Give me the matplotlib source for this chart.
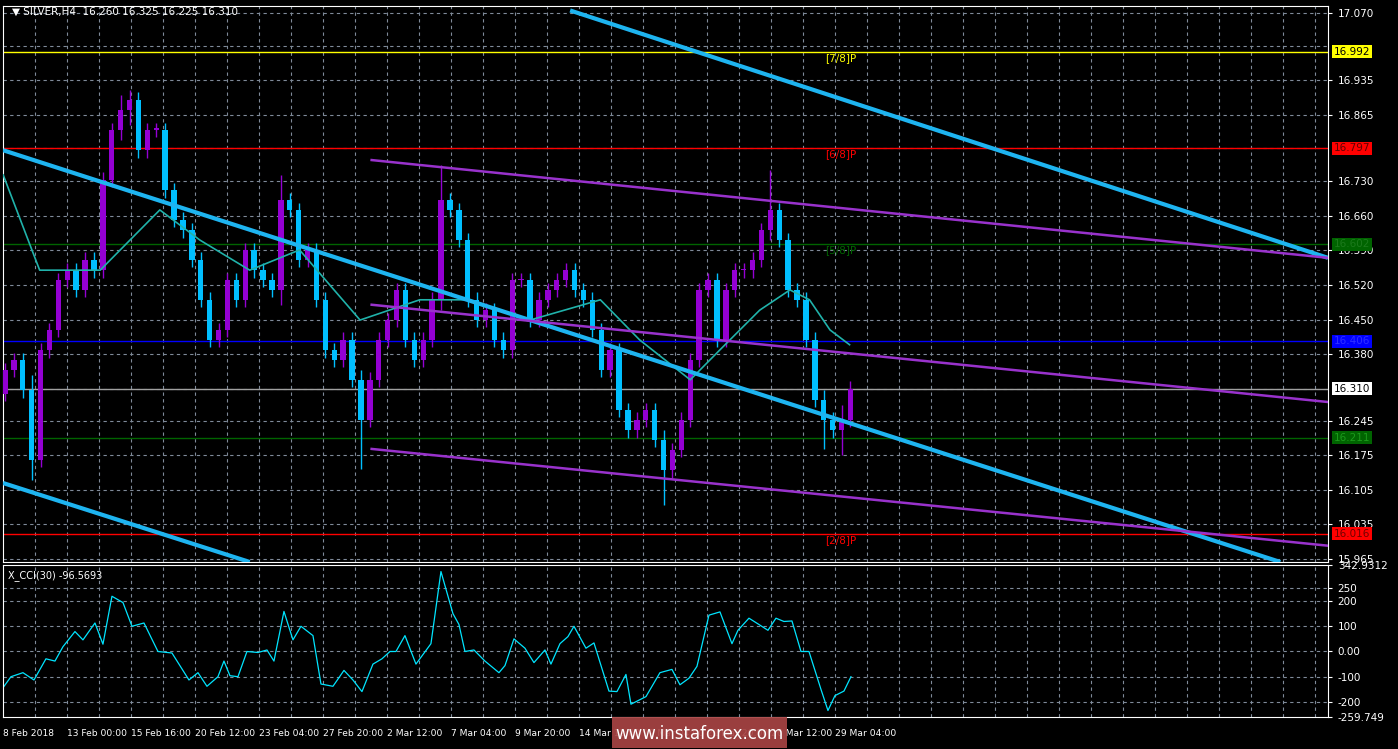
import matplotlib.pyplot as plt
import matplotlib.transforms as mtransforms
import numpy as np

# ---- data ----
closes = [16.348, 16.368, 16.307, 16.166, 16.388, 16.429, 16.530, 16.550, 16.510, 16.571,
          16.550, 16.733, 16.834, 16.874, 16.895, 16.793, 16.834, 16.834, 16.712, 16.652,
          16.631, 16.571, 16.490, 16.409, 16.429, 16.530, 16.490, 16.591, 16.550, 16.530,
          16.510, 16.692, 16.672, 16.571, 16.591, 16.490, 16.388, 16.368, 16.409, 16.328,
          16.247, 16.328, 16.409, 16.449, 16.510, 16.409, 16.368, 16.409, 16.490, 16.692,
          16.672, 16.611, 16.490, 16.449, 16.469, 16.409, 16.388, 16.530, 16.530, 16.449,
          16.490, 16.510, 16.530, 16.550, 16.510, 16.490, 16.429, 16.348, 16.388, 16.267,
          16.226, 16.247, 16.267, 16.206, 16.145, 16.186, 16.247, 16.368, 16.510, 16.530,
          16.409, 16.510, 16.550, 16.550, 16.571, 16.631, 16.672, 16.611, 16.510, 16.490,
          16.409, 16.287, 16.247, 16.226, 16.247, 16.310]
first_open = 16.300
big_wicks = {3: (0.03, 0.04), 13: (0.03, 0.02), 14: (0.02, 0.03), 31: (0.05, 0.03),
             40: (0.02, 0.10), 49: (0.07, 0.02), 74: (0.02, 0.07), 86: (0.08, 0.02),
             92: (0.02, 0.06), 94: (0.03, 0.05)}

ma_t = [-0.2, 3.9, 10.7, 17.4, 21.9, 27.5, 33.1, 39.9, 46.6, 52.2, 59.0, 66.9, 71.3,
        77.0, 80.3, 84.8, 88.2, 90.4, 92.7, 94.9]
ma_v = [16.743, 16.550, 16.550, 16.672, 16.611, 16.550, 16.591, 16.449, 16.490, 16.490,
        16.449, 16.490, 16.409, 16.328, 16.388, 16.469, 16.510, 16.490, 16.429, 16.399]

blue_lines = [((63.5, 17.076), (148.65, 16.575)),
              ((-0.22, 16.793), (143.3, 15.959)),
              ((-0.22, 16.119), (27.5, 15.959))]
purple_lines = [((41.2, 16.773), (148.65, 16.575)),
                ((41.2, 16.480), (148.65, 16.283)),
                ((41.2, 16.188), (148.65, 15.992))]

levels = [16.992, 16.797, 16.602, 16.406, 16.310, 16.211, 16.016]
level_colors = ['#FFFF00', '#FF0000', '#006400', '#0000FF', '#A0A0A0', '#006400', '#FF0000']
box_colors = ['#FFFF00', '#FF0000', '#006400', '#0000FF', '#FFFFFF', '#006400', '#FF0000']
box_text = ['black', '#600000', '#1c7a1c', '#3030ff', 'black', '#1c9a1c', '#700000']
murray = [(16.992, '[7/8]P', '#FFFF00'), (16.797, '[6/8]P', '#FF0000'),
          (16.602, '[5/8]P', '#006400'), (16.016, '[2/8]P', '#FF0000')]

price_ticks = [17.070, 16.935, 16.865, 16.730, 16.660, 16.590, 16.520, 16.450, 16.380,
               16.245, 16.175, 16.105, 16.035, 15.965]
grid_prices = [17.070, 17.003, 16.935, 16.865, 16.797, 16.730, 16.660, 16.590, 16.520,
               16.450, 16.380, 16.310, 16.245, 16.175, 16.105, 16.035, 15.965]

cci_px = [3, 11, 23, 34, 46, 55, 63, 75, 83, 95, 103, 112, 123, 132, 144, 158, 172, 189,
          198, 207, 218, 224, 230, 238, 247, 258, 267, 274, 284, 293, 301, 313, 321, 333,
          344, 353, 362, 373, 382, 390, 396, 405, 416, 431, 441, 453, 459, 465, 474, 485,
          499, 505, 514, 525, 534, 545, 551, 560, 568, 574, 586, 594, 609, 617, 626, 631,
          646, 660, 672, 680, 689, 697, 709, 720, 732, 738, 749, 759, 768, 776, 784, 792,
          801, 809, 821, 828, 835, 844, 851]
cci_v = [-144, -100, -84, -113, -29, -38, 19, 79, 46, 113, 29, 219, 194, 100, 113, 0, -6,
         -113, -84, -138, -100, -38, -96, -100, 0, -4, 6, -38, 159, 46, 100, 63, -129, -138,
         -75, -113, -159, -50, -29, 0, 0, 63, -50, 31, 317, 150, 107, 0, 6, -38, -84, -56,
         50, 13, -44, 6, -50, 31, 59, 100, 13, 34, -157, -159, -91, -209, -179, -84, -71,
         -132, -106, -59, 144, 157, 31, 84, 132, 107, 84, 132, 119, 121, 0, 0, -150, -234,
         -175, -157, -100]

date_labels = ['8 Feb 2018', '13 Feb 00:00', '15 Feb 16:00', '20 Feb 12:00', '23 Feb 04:00',
               '27 Feb 20:00', '2 Mar 12:00', '7 Mar 04:00', '9 Mar 20:00', '14 Mar 12:00',
               '19 Mar 04:00', '21 Mar 20:00', '26 Mar 12:00', '29 Mar 04:00']

# ---- layout ----
W, H = 1398, 749
BAR_PX = 8.9
X0 = -0.22
X1 = X0 + 1325 / BAR_PX
to_bar = lambda px: (px - 5) / BAR_PX

fig = plt.figure(figsize=(W / 100, H / 100), dpi=100, facecolor='black')
ax = fig.add_axes([3 / W, 1 - 562 / H, 1325 / W, 556 / H], facecolor='black')
ax2 = fig.add_axes([3 / W, 1 - 717 / H, 1325 / W, 152 / H], facecolor='black')

for a in (ax, ax2):
    for s in a.spines.values():
        s.set_color('white')
    a.set_xlim(X0, X1)
    a.yaxis.tick_right()
    a.tick_params(axis='y', colors='white', labelsize=7.5, length=3, pad=4)
    a.tick_params(axis='x', length=0, labelbottom=False)
    grid_x = np.arange(to_bar(35), X1, 32 / BAR_PX)
    for gx in grid_x:
        a.axvline(gx, color='#7f8a99', ls=(0, (3, 3)), lw=0.8, zorder=0)

ax.set_ylim(15.959, 17.085)
for gp in grid_prices:
    ax.axhline(gp, color='#7f8a99', ls=(0, (3, 3)), lw=0.8, zorder=0)
ax.set_yticks(price_ticks)
ax.set_yticklabels(['%.3f' % p for p in price_ticks])

# levels
trans = mtransforms.blended_transform_factory(ax.transAxes, ax.transData)
for lv, lc, bc, tc in zip(levels, level_colors, box_colors, box_text):
    ax.axhline(lv, color=lc, lw=1, zorder=1)
    ax.text(1.0045, lv, '%.3f' % lv, transform=trans, fontsize=7.5, color=tc,
            va='center', ha='left', zorder=10, clip_on=False,
            bbox=dict(boxstyle='square,pad=0.15', fc=bc, ec='none'))
for lv, lab, col in murray:
    ax.text(to_bar(825), lv - 0.012, lab, color=col, fontsize=7.5, va='center', zorder=2)

# candles
opens = [first_open] + closes[:-1]
for i, (o, c) in enumerate(zip(opens, closes)):
    up, dn = big_wicks.get(i, (0.015, 0.015))
    col = '#9400D3' if c >= o else '#00BFFF'
    ax.vlines(i, min(o, c) - dn, max(o, c) + up, color=col, lw=1, zorder=3)
    ax.bar(i, abs(c - o) if abs(c - o) > 0.003 else 0.003, bottom=min(o, c),
           width=0.6, color=col, zorder=3)

ax.plot(ma_t, ma_v, color='#20B2AA', lw=1.2, zorder=4)
for (x0, y0), (x1, y1) in blue_lines:
    ax.plot([x0, x1], [y0, y1], color='#1EB4F0', lw=3, zorder=5, solid_capstyle='butt')
for (x0, y0), (x1, y1) in purple_lines:
    ax.plot([x0, x1], [y0, y1], color='#9932CC', lw=1.8, zorder=5)

fig.text(12 / W, 1 - 12 / H, '\u25BC SILVER,H4  16.260 16.325 16.225 16.310',
         color='white', fontsize=7.5, va='center')

# CCI
ax2.set_ylim(-259.749, 342.9312)
ax2.set_yticks([342.9312, 250, 200, 100, 0, -100, -200, -259.749])
ax2.set_yticklabels(['342.9312', '250', '200', '100', '0.00', '-100', '-200', '-259.749'])
for gv in [250, 200, 100, 0, -100, -200]:
    ax2.axhline(gv, color='#7f8a99', ls=(0, (3, 3)), lw=0.8, zorder=0)
ax2.plot([to_bar(p) for p in cci_px], cci_v, color='#00E5FF', lw=0.9)
ax2.text(0.004, 0.93, 'X_CCI(30) -96.5693', transform=ax2.transAxes, color='white',
         fontsize=7, va='center')

for k, lab in enumerate(date_labels):
    fig.text((3 + 64 * k) / W, 1 - 733 / H, lab, color='white', fontsize=6.6,
             va='center', ha='left')

fig.patches.append(plt.Rectangle((612 / W, 1 - 748 / H), 175 / W, 31 / H,
                                 transform=fig.transFigure, fc='#A84444', ec='none',
                                 alpha=0.92, zorder=20))
fig.text(699 / W, 1 - 734 / H, 'www.instaforex.com', color='white', fontsize=12,
         ha='center', va='center', zorder=21)

fig.savefig('out.png', dpi=100, facecolor='black')
